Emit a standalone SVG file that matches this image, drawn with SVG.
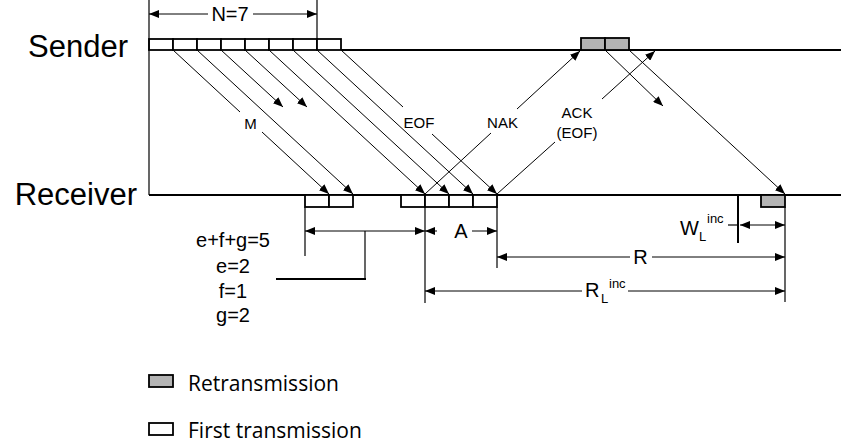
<svg xmlns="http://www.w3.org/2000/svg" width="841" height="447" viewBox="0 0 841 447">
<style>
.t{font-family:"Liberation Sans",Arial,sans-serif;fill:#000}
.big{font-size:31px}
.md{font-size:20px}
.sm{font-size:15px}
.xs{font-size:13px}
.lg{font-family:"Open Sans","DejaVu Sans",sans-serif;font-size:21px;fill:#000}
.axis{stroke:#000;stroke-width:2;fill:none}
.pk{fill:#fff;stroke:#000;stroke-width:1.8}
.rt{fill:#b4b4b4;stroke:#000;stroke-width:1.8}
.c{stroke:#000;stroke-width:1;fill:none}
.ca{stroke:#000;stroke-width:1;fill:none;marker-end:url(#ah)}
.cs{stroke:#000;stroke-width:1;fill:none;marker-start:url(#ah)}
.cb{stroke:#000;stroke-width:1;fill:none;marker-start:url(#ah);marker-end:url(#ah)}
.ext{stroke:#000;stroke-width:1.2;fill:none}
</style>
<defs>
<marker id="ah" viewBox="0 0 10 8" refX="10" refY="4" markerWidth="10" markerHeight="8" markerUnits="userSpaceOnUse" orient="auto-start-reverse"><path d="M0,0L10,4L0,8z" fill="#000"/></marker>
</defs>
<rect width="841" height="447" fill="#fff"/>

<g id="sender">
<text class="t big" x="128" y="57" text-anchor="end">Sender</text>
<line class="axis" x1="341" y1="50" x2="841" y2="50"/>
<rect class="pk" x="149" y="39" width="24" height="11"/>
<rect class="pk" x="173" y="39" width="24" height="11"/>
<rect class="pk" x="197" y="39" width="24" height="11"/>
<rect class="pk" x="221" y="39" width="24" height="11"/>
<rect class="pk" x="245" y="39" width="24" height="11"/>
<rect class="pk" x="269" y="39" width="24" height="11"/>
<rect class="pk" x="293" y="39" width="24" height="11"/>
<rect class="pk" x="317" y="39" width="24" height="11"/>
<rect class="rt" x="581" y="38" width="24" height="12"/>
<rect class="rt" x="605" y="38" width="24" height="12"/>
</g>

<g id="receiver">
<text class="t big" x="137" y="205" text-anchor="end">Receiver</text>
<line class="axis" x1="149" y1="195" x2="841" y2="195"/>
<rect class="pk" x="305" y="195" width="24" height="12"/>
<rect class="pk" x="329" y="195" width="24" height="12"/>
<rect class="pk" x="401" y="195" width="24" height="12"/>
<rect class="pk" x="425" y="195" width="24" height="12"/>
<rect class="pk" x="449" y="195" width="24" height="12"/>
<rect class="pk" x="473" y="195" width="24" height="12"/>
<rect class="rt" x="761" y="195" width="24" height="12"/>
</g>

<g id="connectors">
<line class="c" x1="173" y1="50" x2="240" y2="112"/>
<line class="ca" x1="262" y1="132" x2="329" y2="194"/>
<line class="ca" x1="197" y1="50" x2="353" y2="194"/>
<line class="ca" x1="221" y1="50" x2="283" y2="107"/>
<line class="ca" x1="245" y1="50" x2="307" y2="107"/>
<line class="ca" x1="269" y1="50" x2="425" y2="194"/>
<line class="ca" x1="293" y1="50" x2="449" y2="194"/>
<line class="ca" x1="317" y1="50" x2="473" y2="194"/>
<line class="c" x1="341" y1="50" x2="403" y2="107"/>
<line class="ca" x1="432" y1="134" x2="497" y2="194"/>
<line class="c" x1="425" y1="194" x2="491" y2="133"/>
<line class="ca" x1="517" y1="109" x2="580" y2="51"/>
<line class="c" x1="497" y1="194" x2="555" y2="142"/>
<line class="ca" x1="602" y1="99" x2="655" y2="51"/>
<line class="ca" x1="605" y1="50" x2="663" y2="106"/>
<line class="ca" x1="629" y1="50" x2="785" y2="194"/>
<text class="t sm" x="250.5" y="129" text-anchor="middle">M</text>
<text class="t sm" x="419" y="128" text-anchor="middle">EOF</text>
<text class="t sm" x="502.5" y="128" text-anchor="middle">NAK</text>
<text class="t sm" x="577" y="118" text-anchor="middle">ACK</text>
<text class="t sm" x="577" y="138" text-anchor="middle">(EOF)</text>
</g>

<g id="dimensions">
<line class="ext" x1="149" y1="0" x2="149" y2="195" stroke-width="1.5"/>
<line class="ext" x1="317" y1="0" x2="317" y2="39"/>
<line class="cs" x1="149" y1="14" x2="208" y2="14"/>
<line class="ca" x1="253" y1="14" x2="317" y2="14"/>
<text class="t md" x="230" y="21" text-anchor="middle">N=7</text>

<line class="ext" x1="305" y1="207" x2="305" y2="256"/>
<line class="ext" x1="425" y1="207" x2="425" y2="303"/>
<line class="ext" x1="497" y1="207" x2="497" y2="268"/>
<line class="ext" x1="785" y1="207" x2="785" y2="268" stroke-width="2"/>
<line class="ext" x1="785" y1="268" x2="785" y2="302"/>
<line class="cb" x1="305" y1="231" x2="425" y2="231"/>
<line class="cs" x1="425" y1="231" x2="437" y2="231"/>
<line class="ca" x1="472" y1="231" x2="497" y2="231"/>
<text class="t md" x="461" y="238" text-anchor="middle">A</text>

<line class="ext" x1="365" y1="231" x2="365" y2="279"/>
<line class="axis" x1="276" y1="279" x2="366" y2="279"/>
<text class="t md" x="233" y="247" text-anchor="middle">e+f+g=5</text>
<text class="t md" x="233" y="273" text-anchor="middle">e=2</text>
<text class="t md" x="233" y="298" text-anchor="middle">f=1</text>
<text class="t md" x="233" y="322" text-anchor="middle">g=2</text>

<line class="cs" x1="497" y1="257" x2="630" y2="257"/>
<line class="ca" x1="652" y1="257" x2="785" y2="257"/>
<text class="t md" x="640.5" y="264" text-anchor="middle">R</text>

<line class="cs" x1="425" y1="291" x2="582" y2="291"/>
<line class="ca" x1="628" y1="291" x2="785" y2="291"/>
<text class="t md" x="585" y="297">R</text>
<text class="t xs" x="601" y="303">L</text>
<text class="t xs" x="609" y="288">inc</text>

<line class="axis" x1="738" y1="195" x2="738" y2="243"/>
<line class="ext" x1="728" y1="225" x2="738" y2="225"/>
<line class="cb" x1="740" y1="225" x2="785" y2="225"/>
<text class="t md" x="680" y="235">W</text>
<text class="t xs" x="699" y="241">L</text>
<text class="t xs" x="707" y="223">inc</text>
</g>

<g id="legend">
<rect class="rt" x="149" y="375" width="24" height="12"/>
<text class="lg" x="188" y="391">Retransmission</text>
<rect class="pk" x="149" y="423" width="24" height="12"/>
<text class="lg" x="188" y="438">First transmission</text>
</g>
</svg>
